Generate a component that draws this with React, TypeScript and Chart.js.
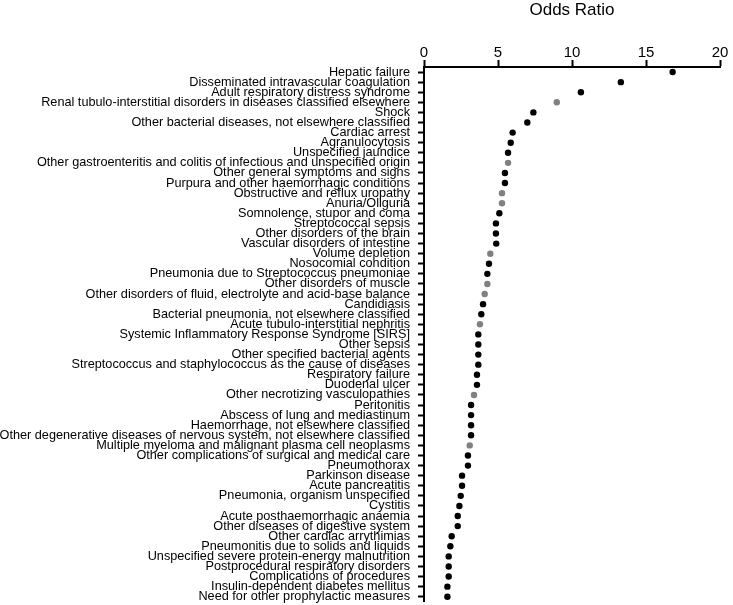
import React, { useEffect, useRef } from 'react';
import { Chart, registerables } from 'chart.js';
Chart.register(...registerables);

const categories = [
  'Hepatic failure',
  'Disseminated intravascular coagulation',
  'Adult respiratory distress syndrome',
  'Renal tubulo-interstitial disorders in diseases classified elsewhere',
  'Shock',
  'Other bacterial diseases, not elsewhere classified',
  'Cardiac arrest',
  'Agranulocytosis',
  'Unspecified jaundice',
  'Other gastroenteritis and colitis of infectious and unspecified origin',
  'Other general symptoms and signs',
  'Purpura and other haemorrhagic conditions',
  'Obstructive and reflux uropathy',
  'Anuria/Oliguria',
  'Somnolence, stupor and coma',
  'Streptococcal sepsis',
  'Other disorders of the brain',
  'Vascular disorders of intestine',
  'Volume depletion',
  'Nosocomial condition',
  'Pneumonia due to Streptococcus pneumoniae',
  'Other disorders of muscle',
  'Other disorders of fluid, electrolyte and acid-base balance',
  'Candidiasis',
  'Bacterial pneumonia, not elsewhere classified',
  'Acute tubulo-interstitial nephritis',
  'Systemic Inflammatory Response Syndrome [SIRS]',
  'Other sepsis',
  'Other specified bacterial agents',
  'Streptococcus and staphylococcus as the cause of diseases',
  'Respiratory failure',
  'Duodenal ulcer',
  'Other necrotizing vasculopathies',
  'Peritonitis',
  'Abscess of lung and mediastinum',
  'Haemorrhage, not elsewhere classified',
  'Other degenerative diseases of nervous system, not elsewhere classified',
  'Multiple myeloma and malignant plasma cell neoplasms',
  'Other complications of surgical and medical care',
  'Pneumothorax',
  'Parkinson disease',
  'Acute pancreatitis',
  'Pneumonia, organism unspecified',
  'Cystitis',
  'Acute posthaemorrhagic anaemia',
  'Other diseases of digestive system',
  'Other cardiac arrythimias',
  'Pneumonitis due to solids and liquids',
  'Unspecified severe protein-energy malnutrition',
  'Postprocedural respiratory disorders',
  'Complications of procedures',
  'Insulin-dependent diabetes mellitus',
  'Need for other prophylactic measures',
];

const oddsRatios = [
  16.8, 13.3, 10.6, 8.97, 7.39, 6.98, 5.99, 5.86, 5.68, 5.68,
  5.47, 5.47, 5.27, 5.27, 5.09, 4.86, 4.86, 4.88, 4.48, 4.39,
  4.28, 4.28, 4.10, 3.99, 3.87, 3.78, 3.67, 3.67, 3.67, 3.67,
  3.58, 3.58, 3.38, 3.18, 3.18, 3.18, 3.18, 3.09, 2.97, 2.97,
  2.57, 2.57, 2.48, 2.39, 2.28, 2.28, 1.87, 1.78, 1.67, 1.67,
  1.67, 1.58, 1.58,
];

// 1 = secondary group (drawn grey), 0 = primary group (drawn black)
const secondaryGroup = [
  0, 0, 0, 1, 0, 0, 0, 0, 0, 1,
  0, 0, 1, 1, 0, 0, 0, 0, 1, 0,
  0, 1, 1, 0, 0, 1, 0, 0, 0, 0,
  0, 0, 1, 0, 0, 0, 0, 1, 0, 0,
  0, 0, 0, 0, 0, 0, 0, 0, 0, 0,
  0, 0, 0,
];

const xMin = 0;
const xMax = 20;
const xStep = 5;
const axisTitle = 'Odds Ratio';

export default function App() {
  const ref = useRef<HTMLCanvasElement>(null);
  useEffect(() => {
    const colors = secondaryGroup.map((g) => (g ? '#808080' : '#000000'));
    const font = '"Liberation Sans", Arial, Helvetica, sans-serif';
    const chart = new Chart(ref.current!, {
      type: 'line',
      data: {
        labels: categories,
        datasets: [
          {
            data: oddsRatios,
            showLine: false,
            pointRadius: 3.2,
            pointHoverRadius: 3.2,
            pointBorderWidth: 0,
            pointBackgroundColor: colors,
            pointBorderColor: colors,
          },
        ],
      },
      options: {
        indexAxis: 'y',
        responsive: false,
        animation: false,
        layout: { padding: { left: 0, right: 13, top: 0, bottom: 3 } },
        plugins: { legend: { display: false }, tooltip: { enabled: false } },
        scales: {
          x: {
            type: 'linear',
            position: 'top',
            min: xMin,
            max: xMax,
            ticks: {
              stepSize: xStep,
              color: '#000',
              font: { family: font, size: 15 },
              padding: -2,
              maxRotation: 0,
            },
            grid: {
              drawOnChartArea: false,
              drawTicks: true,
              tickLength: 7,
              tickWidth: 2,
              tickColor: '#000',
            },
            border: { display: true, color: '#000', width: 2 },
            title: {
              display: true,
              text: axisTitle,
              color: '#000',
              font: { family: font, size: 17 },
              padding: { top: 0, bottom: 0 },
            },
            afterFit: (scale: any) => {
              scale.height = 67;
              scale.paddingLeft = 0;
              scale.paddingRight = 0;
            },
          },
          y: {
            type: 'category',
            offset: true,
            ticks: {
              autoSkip: false,
              color: '#000',
              font: { family: font, size: 12.7 },
              padding: 8,
            },
            grid: {
              drawOnChartArea: false,
              drawTicks: true,
              tickLength: 6,
              tickWidth: 2,
              tickColor: '#000',
              offset: false,
            },
            border: { display: true, color: '#000', width: 2 },
            afterFit: (scale: any) => {
              scale.width = 424;
              scale.paddingTop = 0;
              scale.paddingBottom = 0;
            },
          },
        },
      },
    } as any);
    return () => chart.destroy();
  }, []);
  return (
    <div style={{ position: 'fixed', left: 0, top: 0, width: 733, height: 605 }}>
      <canvas ref={ref} width={733} height={605} style={{ display: 'block' }} />
    </div>
  );
}
